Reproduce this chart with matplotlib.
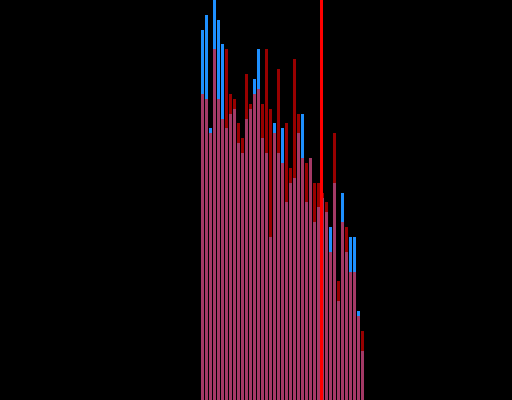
import matplotlib
matplotlib.use("Agg")
import matplotlib.pyplot as plt
import numpy as np

bins = list(range(41))
blue_counts = [75, 78, 55, 81, 77, 72, 55, 58, 59, 52, 50, 57, 59, 65, 71, 53, 50, 33, 56, 50,
               55, 40, 44, 45, 54, 58, 40, 49, 36, 39, 41, 38, 35, 44, 20, 42, 30, 33, 33, 18, 10]
red_counts = [62, 61, 54, 71, 61, 57, 71, 62, 61, 56, 53, 66, 60, 62, 63, 60, 71, 59, 54, 67,
              48, 56, 47, 69, 58, 49, 48, 49, 44, 44, 42, 40, 30, 54, 24, 36, 35, 26, 26, 17, 14]
marker_x = 29.5

fig = plt.figure(figsize=(5.12, 4.0), dpi=100, facecolor="black")
ax = fig.add_axes([0, 0, 1, 1])
ax.set_facecolor("black")
ax.bar(bins, blue_counts, width=0.75, color="#1e90ff", linewidth=0)
ax.bar(bins, red_counts, width=0.75, color="#ff0000", alpha=0.6, linewidth=0)
ax.axvline(marker_x, color="#ff0000", linewidth=0.9, antialiased=False, zorder=5)
ax.set_xlim(-50.625, 77.375)
ax.set_ylim(0, 81)
ax.axis("off")
fig.savefig("out.png", dpi=100, facecolor="black")
